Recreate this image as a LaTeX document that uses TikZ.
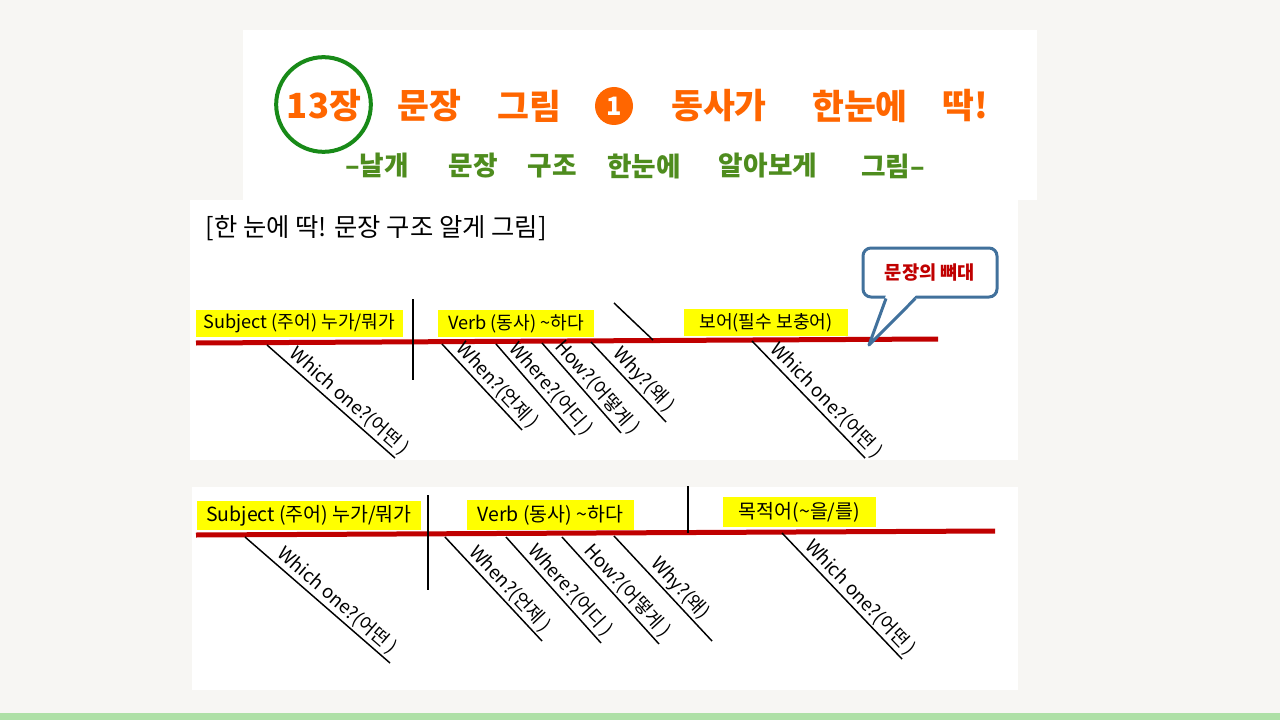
\documentclass[tikz,border=0pt]{standalone}
\usepackage{fontspec}
\setmainfont{Noto Sans CJK KR}
\usetikzlibrary{positioning}

\definecolor{pagebg}{RGB}{247,246,243}
\definecolor{barfill}{RGB}{174,224,166}
\definecolor{titleorange}{RGB}{255,102,0}
\definecolor{ringgreen}{RGB}{24,138,24}
\definecolor{subgreen}{RGB}{78,140,30}
\definecolor{stemred}{RGB}{192,0,0}
\definecolor{callblue}{RGB}{65,113,156}
\definecolor{hiyellow}{RGB}{255,255,0}

\begin{document}
\begin{tikzpicture}[x=0.75pt, y=-0.75pt,
  stem/.style={draw=stemred, line width=3.75pt},
  divider/.style={draw=black, line width=1.5pt},
  branch/.style={draw=black, line width=1.1pt},
  tag/.style={fill=hiyellow, inner sep=0pt, minimum height=20.5pt, font=\fontsize{13.6}{15}\selectfont},
  tagwide/.style={tag, minimum height=22pt, font=\fontsize{14.6}{16}\selectfont},
  ask/.style={sloped, above, pos=0.58, inner sep=1.5pt, font=\fontsize{14}{16}\selectfont},
  headline/.style={text=titleorange, inner sep=0pt, font=\fontsize{26}{30}\selectfont\bfseries},
  subline/.style={text=subgreen, inner sep=0pt, font=\fontsize{20}{24}\selectfont\bfseries},
  callbox/.style={draw=callblue, line width=2.25pt, rounded corners=6pt, fill=white, minimum width=100.5pt, minimum height=36.75pt, text=stemred, font=\fontsize{14}{16}\selectfont\bfseries}]
\useasboundingbox (0,0) rectangle (1280,720);
\fill[pagebg] (0,0) rectangle (1280,720);
\fill[barfill] (0,713) rectangle (1280,720);
\fill[white] (243,30) rectangle (1037,200);
\fill[white] (190,200) rectangle (1018,460);
\fill[white] (192,487) rectangle (1018,690);

% title
\node[draw=ringgreen, line width=3pt, circle, minimum size=71pt] (ring) at (323.5,104.5) {};
\node[headline] (chap) at (324,106) {13장};
\node[headline] (tw1) at (429,106) {문장};
\node[headline] (tw2) at (529,106) {그림};
\node[circle, fill=titleorange, minimum size=28.5pt, inner sep=0pt, text=white, font=\fontsize{19}{20}\selectfont\bfseries] (one) at (614,106) {1};
\node[headline] (tw3) at (719,106) {동사가};
\node[headline] (tw4) at (860,106) {한눈에};
\node[headline] (tw5) at (965,106) {딱!};
\node[subline] (sw1) at (377,166) {–날개};
\node[subline] (sw2) at (473,166) {문장};
\node[subline] (sw3) at (552,166) {구조};
\node[subline] (sw4) at (644,166) {한눈에};
\node[subline] (sw5) at (768,166) {알아보게};
\node[subline] (sw6) at (893,166) {그림–};

% upper diagram
\node[anchor=west, font=\fontsize{19}{22}\selectfont] (heading) at (201,228) {[한 눈에 딱! 문장 구조 알게 그림]};
\draw[stem] (196,343) -- (938,339);
\draw[divider] (413,299) -- (413,380);
\node[tag, minimum width=155pt] (subjA) at (299.5,323.5) {Subject (주어) 누가/뭐가};
\node[tag, minimum width=117pt] (verbA) at (516,323.5) {Verb (동사) \textasciitilde 하다};
\node[tag, minimum width=123pt] (compA) at (766,322.5) {보어(필수 보충어)};
\draw[branch] (614,303) -- (653,340);
\draw[branch] (267,345) -- node[ask] (whichA) {Which one?(어떤 )} (395,458);
\draw[branch] (442,344) -- node[ask] (whenA) {When?(언제 )} (522,430);
\draw[branch] (496,344) -- node[ask] (whereA) {Where?(어디 )} (575,435);
\draw[branch] (542,343) -- node[ask] (howA) {How?(어떻게 )} (621,433);
\draw[branch] (591,342) -- node[ask] (whyA) {Why?(왜 )} (666,422);
\draw[branch] (752,341) -- node[ask] (whichC) {Which one?(어떤 )} (865,458);

% callout
\node[callbox] (bone) at (930,272.5) {문장의 뼈대};
\coordinate (tip) at (869,345);
\fill[white] ([xshift=-33pt,yshift=2.5pt]bone.south) -- (tip) -- ([xshift=-10.5pt,yshift=2.5pt]bone.south) -- cycle;
\draw[callblue, line width=2.25pt, line join=round] ([xshift=-33pt]bone.south) -- (tip) -- ([xshift=-11pt]bone.south);

% lower diagram
\draw[stem] (196,535) -- (995,531);
\draw[divider] (428,495) -- (428,590);
\draw[divider] (688,486) -- (688,533);
\node[tagwide, minimum width=168pt] (subjB) at (309,515.5) {Subject (주어) 누가/뭐가};
\node[tagwide, minimum width=125pt] (verbB) at (550.5,515) {Verb (동사) \textasciitilde 하다};
\node[tagwide, minimum width=115pt] (objB) at (799.5,512) {목적어(\textasciitilde 을/를)};
\draw[branch] (245,537) -- node[ask] (whichB) {Which one?(어떤 )} (390,663);
\draw[branch] (445,537) -- node[ask] (whenB) {When?(언제 )} (542,641);
\draw[branch] (506,537) -- node[ask] (whereB) {Where?(어디 )} (601,643);
\draw[branch] (562,537) -- node[ask] (howB) {How?(어떻게 )} (659,644);
\draw[branch] (614,536) -- node[ask] (whyB) {Why?(왜)} (712,641);
\draw[branch] (782,533) -- node[ask] (whichD) {Which one?(어떤 )} (902,659);
\end{tikzpicture}
\end{document}
